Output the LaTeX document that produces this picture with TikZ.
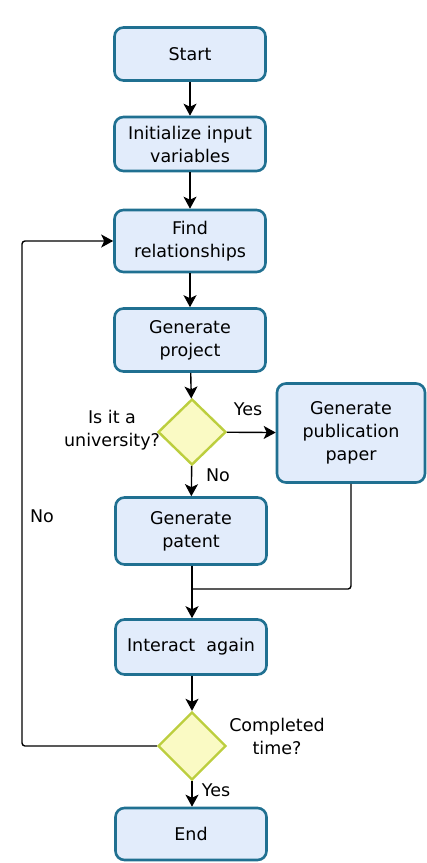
\documentclass[tikz,border=0pt]{standalone}
\usepackage{fontspec}
\setmainfont{DejaVu Sans}
\usetikzlibrary{arrows.meta,shapes.geometric}
\definecolor{boxline}{RGB}{32,112,145}
\definecolor{boxfill}{RGB}{226,236,251}
\definecolor{diaLine}{RGB}{188,206,62}
\definecolor{diaFill}{RGB}{250,250,196}
\begin{document}
\begin{tikzpicture}[x=1pt,y=-1pt,
    font=\fontsize{17.5}{23}\selectfont,
    stepbox/.style={draw=boxline, fill=boxfill, line width=2.6pt, rounded corners=9pt,
        minimum width=151pt, align=center, inner sep=0pt},
    choice/.style={diamond, draw=diaLine, fill=diaFill, line width=2.4pt,
        minimum width=68pt, minimum height=66pt, inner sep=0pt, aspect=1},
    flow/.style={-{Stealth[length=12pt,width=13pt,inset=3pt]}, line width=1.4pt},
    link/.style={line width=1.4pt, rounded corners=3pt}]
    \useasboundingbox (0,0) rectangle (427,863);
        \node[stepbox, minimum height=53pt] (start) at (190,54) {Start};
        \node[stepbox, minimum height=54pt] (init) at (190,144) {Initialize input\\variables};
        \node[stepbox, minimum height=62pt] (find) at (190,241) {Find\\relationships};
        \node[stepbox, minimum height=63pt] (proj) at (190,340) {Generate\\project};
        \node[choice] (univ) at (192,432) {};
        \node[stepbox, minimum width=148pt, minimum height=99pt] (pub) at (351,433) {Generate\\publication\\paper};
        \node[stepbox, minimum height=67pt] (pat) at (191,531) {Generate\\patent};
        \node[stepbox, minimum height=55pt] (inter) at (191,647) {Interact~ again};
        \node[choice, minimum height=68pt] (done) at (192,746) {};
        \node[stepbox, minimum height=52pt] (end) at (191,834) {End};
        % labels
        \node (lyes1) at (248,409) {Yes};
        \node (lno1) at (218,475) {No};
        \node[align=center] (quniv) at (112,430) {Is it a\\university?};
        \node (lno2) at (42,516) {No};
        \node[align=center] (qdone) at (277,736) {Completed\\time?};
        \node (lyes2) at (216,790) {Yes};
        % connectors
        \coordinate (join) at (192,589);
        \coordinate (back) at (22,746);
        \draw[flow] (start) -- (init);
        \draw[flow] (init) -- (find);
        \draw[flow] (find) -- (proj);
        \draw[flow] (proj) -- (univ);
        \draw[flow] (univ) -- (pub);
        \draw[flow] (univ) -- (pat);
        \draw[flow] (pat.south -| join) -- (inter.north -| join);
        \draw[link] (pub.south) |- (join);
        \draw[flow] (inter.south -| done) -- (done);
        \draw[flow] (done) -- (end.north -| done);
        \draw[flow, rounded corners=3pt] (done.west) -- (back) |- (find.west);
\end{tikzpicture}
\end{document}
